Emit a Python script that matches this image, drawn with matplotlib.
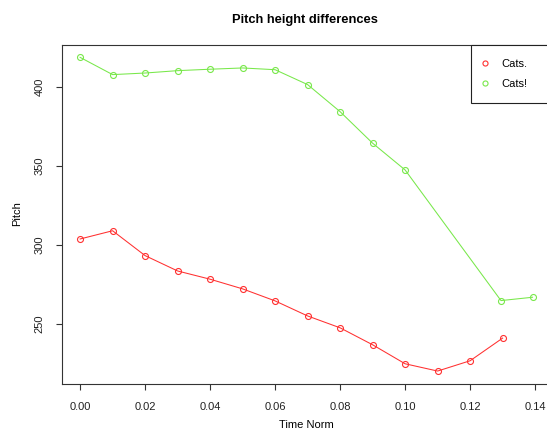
import matplotlib
matplotlib.use("Agg")
import matplotlib.pyplot as plt

plt.rcParams["font.family"] = ["Liberation Sans", "DejaVu Sans"]

# normalised time steps and pitch (Hz) for the two utterances
time_dot = [0.00, 0.01, 0.02, 0.03, 0.04, 0.05, 0.06, 0.07, 0.08, 0.09, 0.10, 0.11, 0.12, 0.13]
pitch_dot = [303.8, 309.0, 293.3, 283.6, 278.4, 272.3, 264.7, 255.2, 247.7, 237.0, 225.0, 220.4, 226.9, 241.2]

time_excl = [0.00, 0.01, 0.02, 0.03, 0.04, 0.05, 0.06, 0.07, 0.08, 0.09, 0.10, 0.1295, 0.1392]
pitch_excl = [418.5, 407.6, 408.6, 410.1, 411.0, 411.8, 410.7, 401.3, 384.2, 364.3, 347.4, 264.9, 267.0]

labels = ["Cats.", "Cats!"]
colors = ["#ff3030", "#78e84a"]

W, H = 547, 432
fig = plt.figure(figsize=(W / 100, H / 100), dpi=100)
# plot region in pixels: left 62, right 550.6, top 44.8, bottom 383.6
ax = fig.add_axes([62 / W, (H - 383.6) / H, (550.6 - 62) / W, (383.6 - 44.8) / H])

for t, p, lab, c in zip([time_dot, time_excl], [pitch_dot, pitch_excl], labels, colors):
    ax.plot(t, p, color=c, lw=0.75, marker="o", markersize=4.3,
            markerfacecolor="none", markeredgecolor=c, markeredgewidth=0.8, label=lab)

# R-style 4% padding on both axes
xs = time_dot + time_excl
ys = pitch_dot + pitch_excl
xpad = 0.04 * (max(xs) - min(xs))
ypad = 0.04 * (max(ys) - min(ys))
ax.set_xlim(min(xs) - xpad, max(xs) + xpad)
ax.set_ylim(min(ys) - ypad, max(ys) + ypad)

ax.set_xticks([0.00, 0.02, 0.04, 0.06, 0.08, 0.10, 0.12, 0.14])
ax.set_xticklabels([f"{v:.2f}" for v in ax.get_xticks()])
ax.set_yticks([250, 300, 350, 400])
for lbl in ax.get_yticklabels():
    lbl.set_rotation(90)
    lbl.set_va("center")
ax.tick_params(axis="both", direction="out", length=4.5, width=0.8, color="#333333",
               labelsize=8, labelcolor="#222222")
ax.tick_params(axis="x", pad=9)
ax.tick_params(axis="y", pad=8)
for s in ax.spines.values():
    s.set_color("#333333")
    s.set_linewidth(0.8)

fig.text(305 / W, 1 - 20 / H, "Pitch height differences", ha="center", va="center",
         fontsize=9.3, fontweight="bold")
fig.text(306 / W, 1 - 425.5 / H, "Time Norm", ha="center", va="center", fontsize=8)
fig.text(17 / W, 1 - 214 / H, "Pitch", ha="center", va="center", rotation=90, fontsize=8)

# legend box spans from x=471px to the right edge of the plot region
leg_x0 = (471 - 62) / (550.6 - 62)
leg = ax.legend(loc="upper left", bbox_to_anchor=(leg_x0, 0, 1 - leg_x0, 1), mode="expand",
                borderaxespad=0, fancybox=False, edgecolor="#222222", fontsize=8,
                handlelength=0, handletextpad=1.45, borderpad=1.25, labelspacing=0.95,
                framealpha=1, markerscale=0.85)
leg.get_frame().set_linewidth(0.8)
for h in leg.legend_handles:
    h.set_linestyle("none")

fig.savefig("out.png", dpi=100)
